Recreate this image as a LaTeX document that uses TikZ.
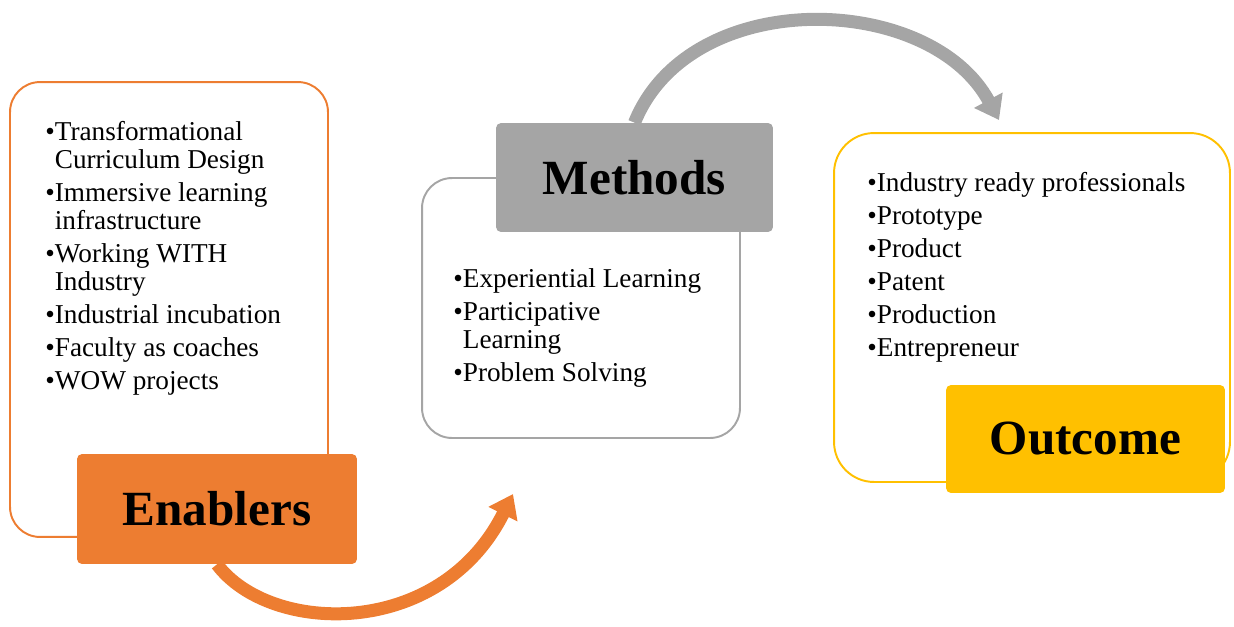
\documentclass[tikz,border=0pt]{standalone}
\usepackage{fontspec}
\setmainfont{Liberation Serif}
\usetikzlibrary{arrows.meta}
\definecolor{enabcol}{HTML}{ED7D31}
\definecolor{methcol}{HTML}{A5A5A5}
\definecolor{outcol}{HTML}{FFC000}
\tikzset{
  boxline/.style={draw=#1, line width=1.1pt, rounded corners=0.6cm, fill=white},
  titlebox/.style={fill=#1, rounded corners=0.1cm, inner sep=0pt, font=\fontsize{28}{32}\selectfont\bfseries},
  itemlist/.style={anchor=north west, align=left, inner sep=0pt, font=\fontsize{15.5}{15.9}\selectfont},
  cyclearrow/.style={draw=#1, line width=7.4pt, -{Triangle[width=0.62cm,length=0.45cm]}}
}
\begin{document}
\begin{tikzpicture}[x=0.02cm,y=-0.02cm]
\useasboundingbox (0,0) rectangle (1234,626);
%=======outline boxes=============
\node[boxline=enabcol, minimum width=6.36cm, minimum height=9.1cm] (enabbox) at (169,309.5) {};
\node[boxline=methcol, minimum width=6.36cm, minimum height=5.2cm] (methbox) at (581,308) {};
\node[boxline=outcol, rounded corners=0.8cm, minimum width=7.92cm, minimum height=6.98cm] (outbox) at (1032,307.5) {};
%=======curved arrows=============
\coordinate (tipA) at (513,494);
\coordinate (tipB) at (999,120);
%=======title boxes=============
\node[titlebox=enabcol, minimum width=5.6cm, minimum height=2.2cm] (enab) at (217,509) {Enablers};
\node[titlebox=methcol, minimum width=5.54cm, minimum height=2.18cm] (meth) at (634.5,177.5) {Methods};
\node[titlebox=outcol, minimum width=5.58cm, minimum height=2.16cm] (outc) at (1085.5,439) {Outcome};
\draw[cyclearrow=enabcol] (enab.south) .. controls (270,635) and (440,640) .. (tipA);
\draw[cyclearrow=methcol] (meth.north) .. controls (690,-15) and (930,-8) .. (tipB);
%=======lists=============
\node[itemlist] (enablist) at (45,121) {•Transformational\\\phantom{•}Curriculum Design\\[0.1cm]
  •Immersive learning\\\phantom{•}infrastructure\\[0.1cm]
  •Working WITH\\\phantom{•}Industry\\[0.1cm]
  •Industrial incubation\\[0.1cm]
  •Faculty as coaches\\[0.1cm]
  •WOW projects};
\node[itemlist] (methlist) at (453,268) {•Experiential Learning\\[0.1cm]
  •Participative\\\phantom{•}Learning\\[0.1cm]
  •Problem Solving};
\node[itemlist] (outlist) at (867,172) {•Industry ready professionals\\[0.1cm]
  •Prototype\\[0.1cm]
  •Product\\[0.1cm]
  •Patent\\[0.1cm]
  •Production\\[0.1cm]
  •Entrepreneur};
\end{tikzpicture}
\end{document}
